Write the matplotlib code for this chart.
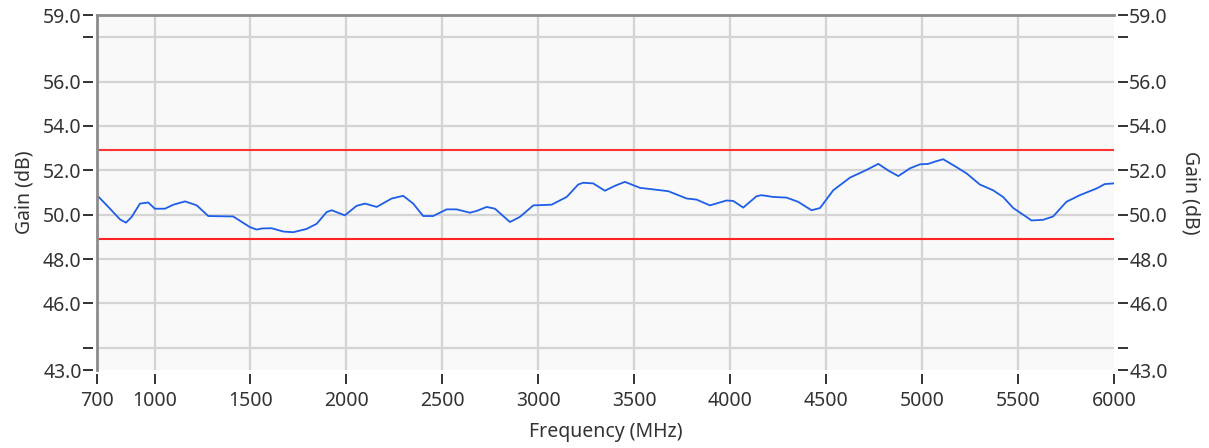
import matplotlib
matplotlib.use("Agg")
import matplotlib.pyplot as plt
from matplotlib.lines import Line2D

# gain trace (MHz, dB)
freq = [700, 768, 820, 851, 881, 924, 967, 1002, 1054, 1098, 1159, 1220, 1280,
        1410, 1497, 1532, 1560, 1610, 1671, 1723, 1793, 1845, 1897, 1923, 1992,
        2053, 2097, 2158, 2236, 2296, 2348, 2400, 2452, 2522, 2574, 2644, 2679,
        2731, 2774, 2852, 2904, 2974, 3069, 3148, 3208, 3234, 3286, 3347, 3399,
        3451, 3530, 3599, 3677, 3773, 3825, 3894, 3981, 4016, 4068, 4137, 4163,
        4224, 4294, 4354, 4424, 4468, 4537, 4624, 4711, 4772, 4824, 4876, 4937,
        4989, 5032, 5070, 5110, 5180, 5232, 5301, 5370, 5422, 5475, 5544, 5570,
        5631, 5683, 5752, 5822, 5909, 5952, 6000]
gain = [50.88, 50.27, 49.79, 49.64, 49.9, 50.5, 50.55, 50.27, 50.27, 50.45,
        50.6, 50.42, 49.94, 49.92, 49.44, 49.33, 49.38, 49.39, 49.24, 49.21,
        49.36, 49.59, 50.12, 50.2, 49.97, 50.4, 50.5, 50.35, 50.73, 50.85,
        50.5, 49.94, 49.94, 50.24, 50.24, 50.09, 50.17, 50.35, 50.27, 49.67,
        49.9, 50.42, 50.45, 50.8, 51.36, 51.44, 51.41, 51.08, 51.3, 51.48,
        51.21, 51.14, 51.06, 50.73, 50.68, 50.42, 50.64, 50.62, 50.32, 50.83,
        50.88, 50.8, 50.77, 50.58, 50.2, 50.3, 51.1, 51.67, 52.02, 52.29,
        51.99, 51.74, 52.09, 52.27, 52.29, 52.4, 52.5, 52.14, 51.86, 51.36,
        51.1, 50.8, 50.3, 49.9, 49.74, 49.77, 49.92, 50.58, 50.88, 51.18,
        51.38, 51.41]

# limit lines
upper_limit = 52.9
lower_limit = 48.9

x_ticks = [700, 1000, 1500, 2000, 2500, 3000, 3500, 4000, 4500, 5000, 5500, 6000]
y_ticks = [43, 44, 46, 48, 50, 52, 54, 56, 58, 59]
y_labels = ["43.0", "", "46.0", "48.0", "50.0", "52.0", "54.0", "56.0", "", "59.0"]

plt.rcParams['font.family'] = ['Noto Sans', 'DejaVu Sans']

fig = plt.figure(figsize=(12.09, 4.48), dpi=100)
ax = fig.add_axes([0.0802, 0.1741, 0.8412, 0.7924])
ax.set_facecolor('#f9f9f9')

# grid
for f in x_ticks[1:-1]:
    ax.axvline(f, color='#d4d4d4', lw=1.6, zorder=1)
for g in [44, 46, 48, 50, 52, 54, 56, 58]:
    ax.axhline(g, color='#d4d4d4', lw=1.6, zorder=1)

ax.axhline(upper_limit, color='#ff3333', lw=1.5, zorder=2)
ax.axhline(lower_limit, color='#ff2222', lw=1.5, zorder=2)
ax.plot(freq, gain, color='#1e5ee8', lw=1.3, zorder=3)

ax.set_xlim(700, 6000)
ax.set_ylim(43, 59)

for s in ['left', 'right', 'bottom']:
    ax.spines[s].set_position(('outward', 3))
    ax.spines[s].set_color('none')
ax.spines['top'].set_color('none')
# visible frame on left and top
ax.add_line(Line2D([0, 0], [0, 1], transform=ax.transAxes, color='#8c8c8c',
                   lw=2, clip_on=False, zorder=5))
ax.add_line(Line2D([0, 1], [1, 1], transform=ax.transAxes, color='#8c8c8c',
                   lw=2, clip_on=False, zorder=5))

ax.set_xticks(x_ticks)
ax.set_xticklabels([str(v) for v in x_ticks])
ax.set_yticks(y_ticks)
ax.set_yticklabels(y_labels)
ax.tick_params(axis='both', direction='out', length=7, width=1.3,
               color='#222222', labelsize=14, labelcolor='#333333', pad=1)
ax.tick_params(axis='y', right=True, labelright=True)
ax.tick_params(axis='x', pad=5)

ax.set_xlabel('Frequency (MHz)', fontsize=14, color='#333333', labelpad=8)
ax.set_ylabel('Gain (dB)', fontsize=14, color='#333333', labelpad=6)
ax2 = ax.secondary_yaxis('right')
ax2.set_yticks([])
ax2.spines['right'].set_color('none')
ax2.set_ylabel('Gain (dB)', fontsize=14, color='#333333', rotation=270,
               labelpad=62)

fig.savefig('out.png', dpi=100)
